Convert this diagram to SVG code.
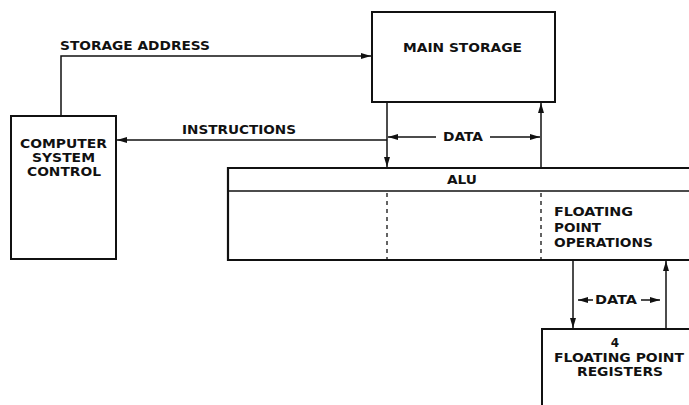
<svg xmlns="http://www.w3.org/2000/svg" width="689" height="405" viewBox="0 0 689 405">
<defs>
<marker id="ah" viewBox="0 0 10 6" refX="10" refY="3" markerWidth="10" markerHeight="6" markerUnits="userSpaceOnUse" orient="auto">
<path d="M0,0 L10,3 L0,6 Z" fill="#111"/>
</marker>
</defs>
<style>
.box{fill:#fff;stroke:#111;stroke-width:2}
.ln{fill:none;stroke:#111;stroke-width:1.5}
.dash{fill:none;stroke:#111;stroke-width:1.3;stroke-dasharray:4,4}
text{font-family:"DejaVu Sans","Liberation Sans",sans-serif;font-size:12px;font-weight:bold;fill:#111}
</style>
<rect width="689" height="405" fill="#fff"/>
<g id="connectors">
<polyline class="ln" points="61,116 61,56 371,56" marker-end="url(#ah)"/>
<line class="ln" x1="387" y1="140" x2="117" y2="140" marker-end="url(#ah)"/>
<line class="ln" x1="387" y1="102" x2="387" y2="167" marker-end="url(#ah)"/>
<line class="ln" x1="541" y1="168" x2="541" y2="103" marker-end="url(#ah)"/>
<line class="ln" x1="436" y1="137" x2="388" y2="137" marker-end="url(#ah)"/>
<line class="ln" x1="490" y1="137" x2="540" y2="137" marker-end="url(#ah)"/>
<line class="ln" x1="573" y1="261" x2="573" y2="328" marker-end="url(#ah)"/>
<line class="ln" x1="666" y1="329" x2="666" y2="261" marker-end="url(#ah)"/>
<line class="ln" x1="593" y1="300" x2="578" y2="300" marker-end="url(#ah)"/>
<line class="ln" x1="641" y1="300" x2="660" y2="300" marker-end="url(#ah)"/>
<text x="60" y="50" textLength="150" lengthAdjust="spacingAndGlyphs">STORAGE ADDRESS</text>
<text x="182" y="134" textLength="114" lengthAdjust="spacingAndGlyphs">INSTRUCTIONS</text>
<text x="443" y="141" textLength="40" lengthAdjust="spacingAndGlyphs">DATA</text>
<text x="595" y="304" textLength="42" lengthAdjust="spacingAndGlyphs">DATA</text>
</g>
<g id="main-storage">
<rect class="box" x="372" y="12" width="183" height="90"/>
<text x="403" y="52" textLength="119" lengthAdjust="spacingAndGlyphs">MAIN STORAGE</text>
</g>
<g id="computer-system-control">
<rect class="box" x="11" y="116" width="105" height="143"/>
<text x="20" y="148" textLength="87" lengthAdjust="spacingAndGlyphs">COMPUTER</text>
<text x="32" y="162" textLength="63" lengthAdjust="spacingAndGlyphs">SYSTEM</text>
<text x="27" y="176" textLength="74" lengthAdjust="spacingAndGlyphs">CONTROL</text>
</g>
<g id="alu">
<path class="box" d="M692,168 L228,168 L228,260 L692,260" style="stroke-width:2.2"/>
<line class="ln" x1="228" y1="191" x2="692" y2="191"/>
<line class="dash" x1="387" y1="193" x2="387" y2="260"/>
<line class="dash" x1="541" y1="193" x2="541" y2="260"/>
<text x="447" y="184" textLength="30" lengthAdjust="spacingAndGlyphs">ALU</text>
<text x="554" y="216" textLength="79" lengthAdjust="spacingAndGlyphs">FLOATING</text>
<text x="554" y="232" textLength="47" lengthAdjust="spacingAndGlyphs">POINT</text>
<text x="554" y="247" textLength="99" lengthAdjust="spacingAndGlyphs">OPERATIONS</text>
</g>
<g id="floating-point-registers">
<path class="box" d="M692,329 L542,329 L542,408"/>
<text x="615" y="347" text-anchor="middle">4</text>
<text x="554" y="362" textLength="130" lengthAdjust="spacingAndGlyphs">FLOATING POINT</text>
<text x="577" y="376" textLength="86" lengthAdjust="spacingAndGlyphs">REGISTERS</text>
</g>
</svg>
